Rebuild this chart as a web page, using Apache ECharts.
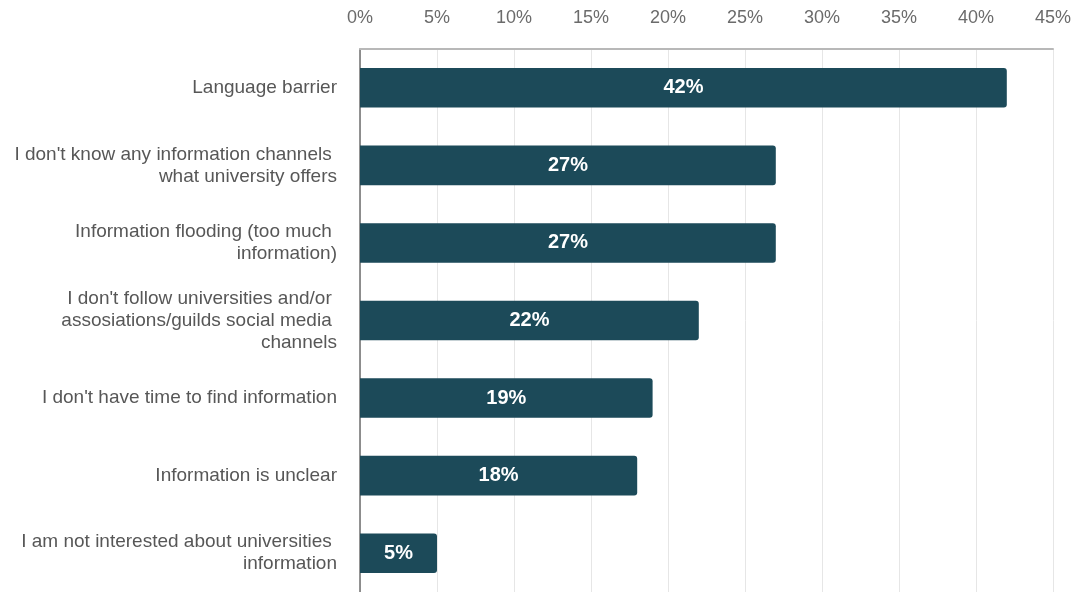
<!DOCTYPE html>
<html>
<head>
<meta charset="utf-8">
<script src="https://cdn.jsdelivr.net/npm/echarts@6/dist/echarts.min.js"></script>
<style>
  html, body { margin: 0; padding: 0; background: #ffffff; }
  #chart { width: 1082px; height: 592px; }
</style>
</head>
<body>
<div id="chart"></div>
<script>
// Reasons for not receiving information (share of respondents, %)
const categories = [
  "Language barrier",
  "I don't know any information channels \nwhat university offers",
  "Information flooding (too much \ninformation)",
  "I don't follow universities and/or \nassosiations/guilds social media \nchannels",
  "I don't have time to find information",
  "Information is unclear",
  "I am not interested about universities \ninformation"
];
const shares = [42, 27, 27, 22, 19, 18, 5];
const tickValues = [0, 5, 10, 15, 20, 25, 30, 35, 40, 45];

const chart = echarts.init(document.getElementById('chart'), null, { renderer: 'canvas' });

chart.setOption({
  animation: false,
  backgroundColor: '#ffffff',
  grid: { left: 360, right: 29, top: 49, height: 546, containLabel: false },
  xAxis: {
    type: 'value',
    position: 'top',
    min: tickValues[0],
    max: tickValues[tickValues.length - 1],
    interval: 5,
    axisLine: { show: true, onZero: false, lineStyle: { color: '#b8b8b8', width: 2 } },
    axisTick: { show: false },
    splitLine: { show: true, lineStyle: { color: '#e6e6e6', width: 1 } },
    axisLabel: {
      margin: 22,
      color: '#6b6b6b',
      fontSize: 18,
      fontFamily: 'Liberation Sans, Arial, sans-serif',
      formatter: v => v + '%'
    }
  },
  yAxis: {
    type: 'category',
    inverse: true,
    data: categories,
    axisLine: { show: true, lineStyle: { color: '#6e6e6e', width: 1.5 } },
    axisTick: { show: false },
    axisLabel: {
      margin: 23,
      color: '#575757',
      fontSize: 19,
      lineHeight: 22,
      align: 'right',
      fontFamily: 'Liberation Sans, Arial, sans-serif'
    }
  },
  series: [{
    type: 'bar',
    data: shares,
    barWidth: '51%',
    itemStyle: { color: '#1c4a59', borderRadius: [0, 3, 3, 0] },
    label: {
      show: true,
      position: 'inside',
      color: '#ffffff',
      fontWeight: 'bold',
      fontSize: 20,
      fontFamily: 'Liberation Sans, Arial, sans-serif',
      formatter: p => p.value + '%'
    }
  }]
});
</script>
</body>
</html>
